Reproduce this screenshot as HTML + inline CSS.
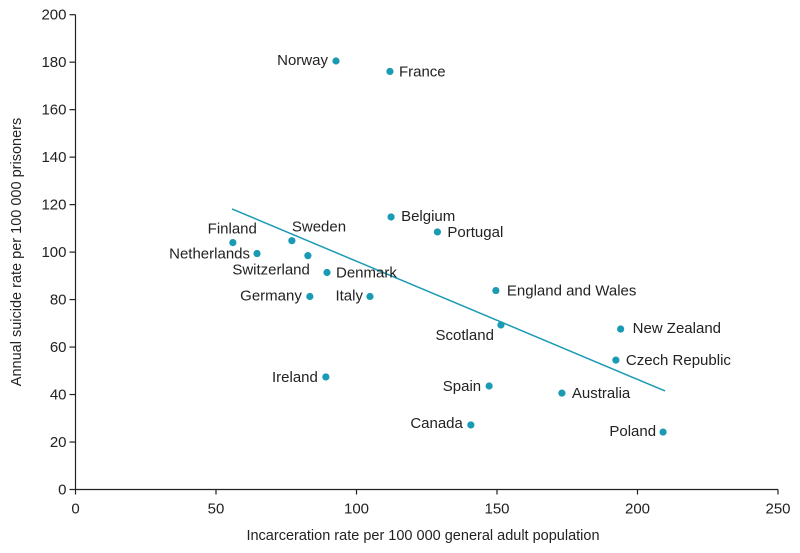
<!DOCTYPE html>
<html><head><meta charset="utf-8"><style>
html,body{margin:0;padding:0;background:#fff;}
svg{display:block;font-family:"Liberation Sans",sans-serif;}
</style></head><body>
<svg id="chart" width="800" height="553"></svg>
<script>
const countries=["Norway","France","Belgium","Portugal","Finland","Sweden","Netherlands","Switzerland","Denmark","Germany","Italy","England and Wales","Scotland","New Zealand","Czech Republic","Ireland","Spain","Australia","Canada","Poland"];
const incarceration=[92.7,111.9,112.3,128.8,56,77,64.6,82.7,89.5,83.4,104.8,149.6,151.4,194,192.3,89.1,147.2,173.1,140.7,209.1];
const suicide=[180.5,176.1,114.8,108.5,104,104.8,99.4,98.5,91.4,81.3,81.3,83.8,69.3,67.6,54.5,47.4,43.6,40.6,27.2,24.2];
const trendX=[55.7,209.8];
const trendY=[118.2,41.5];
const xTicks=[0,50,100,150,200,250];
const yTicks=[0,20,40,60,80,100,120,140,160,180,200];
// label placement (anchor, dx, dy) relative to point
const labelPos=[["end",-8,4],["start",9,5],["start",10,4],["start",10,5],["end",24,-9],["start",0,-9],["end",-7,5],["end",2,19],["start",9,5],["end",-8,4],["end",-7,4],["start",11,5],["end",-7,15],["start",12,4],["start",10,5],["end",-8,5],["end",-8,5],["start",10,5],["end",-8,3],["end",-7,4]];
const NS="http://www.w3.org/2000/svg";
const svg=document.getElementById('chart');
const X=v=>75.5+v*2.81;
const Y=v=>489.5-v*2.374;
function mk(t,a,p){const e=document.createElementNS(NS,t);for(const k in a)e.setAttribute(k,a[k]);(p||svg).appendChild(e);return e;}
const C='#1b9ab4';
let ax=mk('path',{d:`M${X(0)},${Y(200)}H${X(0)}V${Y(0)}H${X(250)}`,stroke:'#222',fill:'none','stroke-width':1.2});


xTicks.forEach(t=>{
 let l=mk('line',{x1:X(t),x2:X(t),y1:Y(0),y2:Y(0)+5,stroke:'#222','stroke-width':1.2});
 
 
 let tx=mk('text',{x:X(t),y:Y(0)+24,'text-anchor':'middle','font-size':15,fill:'#222'});tx.textContent=t;
 
 
});
yTicks.forEach(t=>{
 let l=mk('line',{x1:X(0)-6,x2:X(0),y1:Y(t),y2:Y(t),stroke:'#222','stroke-width':1.2});
 
 
 let tx=mk('text',{x:X(0)-9,y:Y(t)+5,'text-anchor':'end','font-size':15,fill:'#222'});tx.textContent=t;
 
 
});
let xt=mk('text',{x:423,y:540,'text-anchor':'middle','font-size':14.5,fill:'#222'});xt.textContent='Incarceration rate per 100 000 general adult population';


let yt=mk('text',{x:0,y:0,transform:'translate(21,252) rotate(-90)','text-anchor':'middle','font-size':14.5,fill:'#222'});yt.textContent='Annual suicide rate per 100 000 prisoners';


let tl=mk('line',{x1:X(trendX[0]),y1:Y(trendY[0]),x2:X(trendX[1]),y2:Y(trendY[1]),stroke:C,'stroke-width':1.5});


countries.forEach((c,i)=>{
 const px=X(incarceration[i]),py=Y(suicide[i]);
 let d=mk('circle',{cx:px,cy:py,r:3.6,fill:C});
 
 
 const lp=labelPos[i];
 let t=mk('text',{x:px+lp[1],y:py+lp[2],'text-anchor':lp[0],'font-size':15,fill:'#222'});t.textContent=c;
 
 
});
</script>
</body></html>
